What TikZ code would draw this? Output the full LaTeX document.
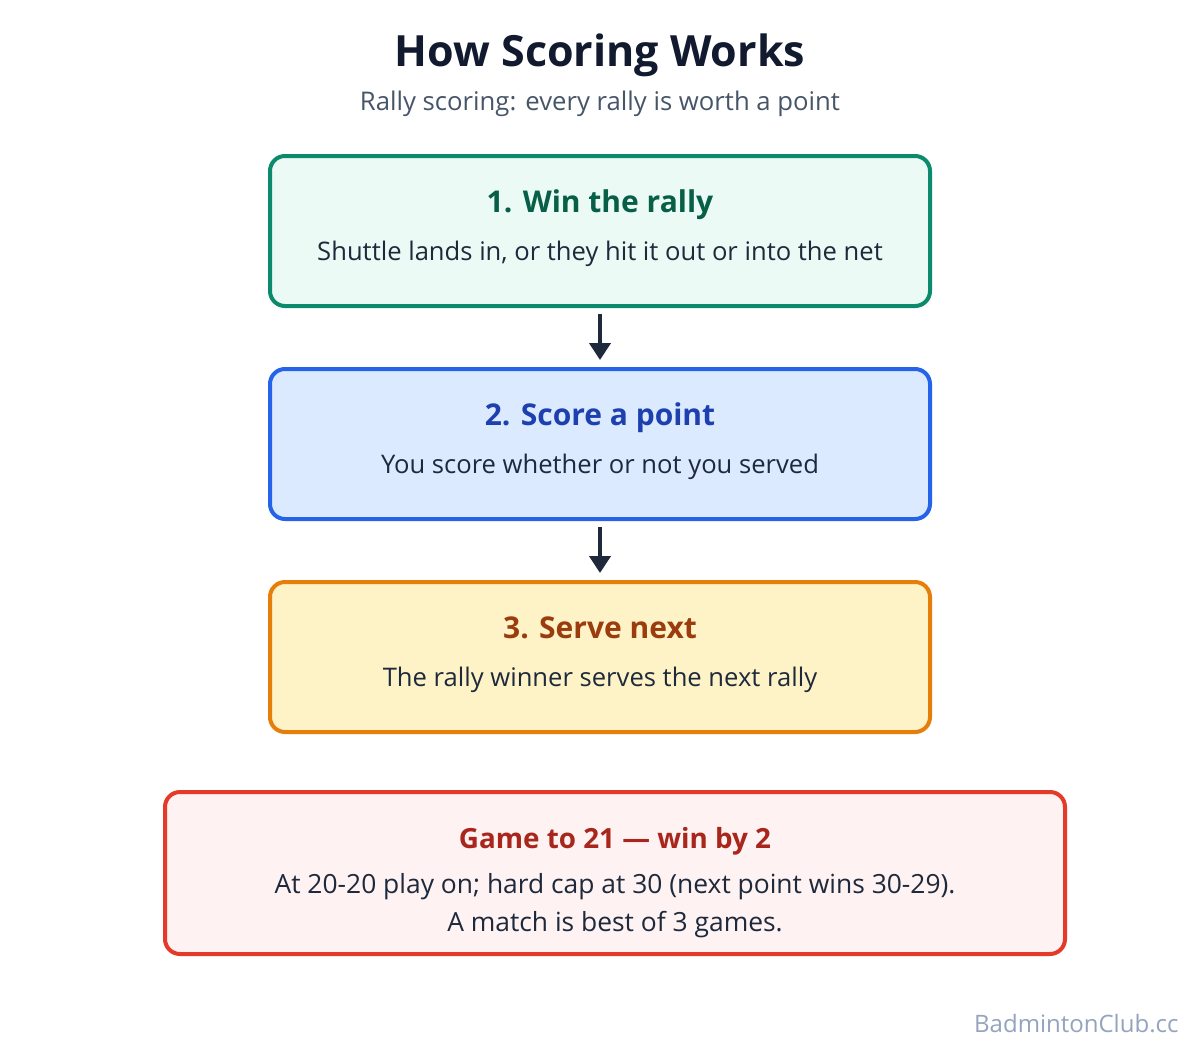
\documentclass[tikz,border=0pt]{standalone}
\usepackage{fontspec}
\setmainfont{Open Sans}
\usetikzlibrary{arrows.meta}
\definecolor{bg}{HTML}{FFFFFF}
\definecolor{ink}{HTML}{1E293B}
\definecolor{titlec}{HTML}{111A2E}
\definecolor{sub}{HTML}{475569}
\definecolor{gfill}{HTML}{ECFAF5}\definecolor{gline}{HTML}{0B8A6E}\definecolor{gtext}{HTML}{065F46}
\definecolor{bfill}{HTML}{DBEAFE}\definecolor{bline}{HTML}{2563EB}\definecolor{btext}{HTML}{1E40AF}
\definecolor{ofill}{HTML}{FEF3C7}\definecolor{oline}{HTML}{E67E0A}\definecolor{otext}{HTML}{9A3C0E}
\definecolor{rfill}{HTML}{FEF2F2}\definecolor{rline}{HTML}{E5392A}\definecolor{rtext}{HTML}{A8261B}
\definecolor{mark}{HTML}{94A3BE}
\begin{document}
\begin{tikzpicture}[x=1pt,y=-1pt,
  card/.style={draw=#1line,fill=#1fill,line width=4pt,rounded corners=15pt,minimum height=150pt,minimum width=660pt,inner sep=0pt},
  head/.style={anchor=base,font=\fontsize{30}{36}\selectfont\bfseries},
  body/.style={anchor=base,text=ink,font=\fontsize{25.6}{30}\selectfont},
  link/.style={draw=ink,line width=4pt,-{Triangle[length=17pt,width=21pt]}}]
\useasboundingbox[fill=bg] (0,0) rectangle (1200,1050);
\node[anchor=base,text=titlec,font=\fontsize{43}{50}\selectfont\bfseries] (title) at (600,66) {How Scoring Works};
\node[anchor=base,text=sub,font=\fontsize{25.7}{30}\selectfont] (subtitle) at (600,110) {Rally scoring: every rally is worth a point};
\node[card=g] (c1) at (600,231) {};
\node[card=b] (c2) at (600,444) {};
\node[card=o] (c3) at (600,657) {};
\node[card=r,minimum width=900pt,minimum height=162pt] (c4) at (615,873) {};
\node[head,text=gtext] (h1) at (600,212) {1. Win the rally};
\node[body] (b1) at (600,260) {Shuttle lands in, or they hit it out or into the net};
\node[head,text=btext] (h2) at (600,425) {2. Score a point};
\node[body] (b2) at (600,473) {You score whether or not you served};
\node[head,text=otext] (h3) at (600,638) {3. Serve next};
\node[body] (b3) at (600,686) {The rally winner serves the next rally};
\node[head,text=rtext,font=\fontsize{27.8}{32}\selectfont\bfseries] (h4) at (615,848) {Game to 21 — win by 2};
\node[body,font=\fontsize{26.4}{30}\selectfont] (b4a) at (615,893) {At 20-20 play on; hard cap at 30 (next point wins 30-29).};
\node[body,font=\fontsize{26.4}{30}\selectfont] (b4b) at (615,931) {A match is best of 3 games.};
\draw[link] ([yshift=-6pt]c1.south) -- ([yshift=7pt]c2.north);
\draw[link] ([yshift=-6pt]c2.south) -- ([yshift=7pt]c3.north);
\node[anchor=base east,text=mark,font=\fontsize{24}{28}\selectfont] (wm) at (1182,1032) {BadmintonClub.cc};
\end{tikzpicture}
\end{document}
